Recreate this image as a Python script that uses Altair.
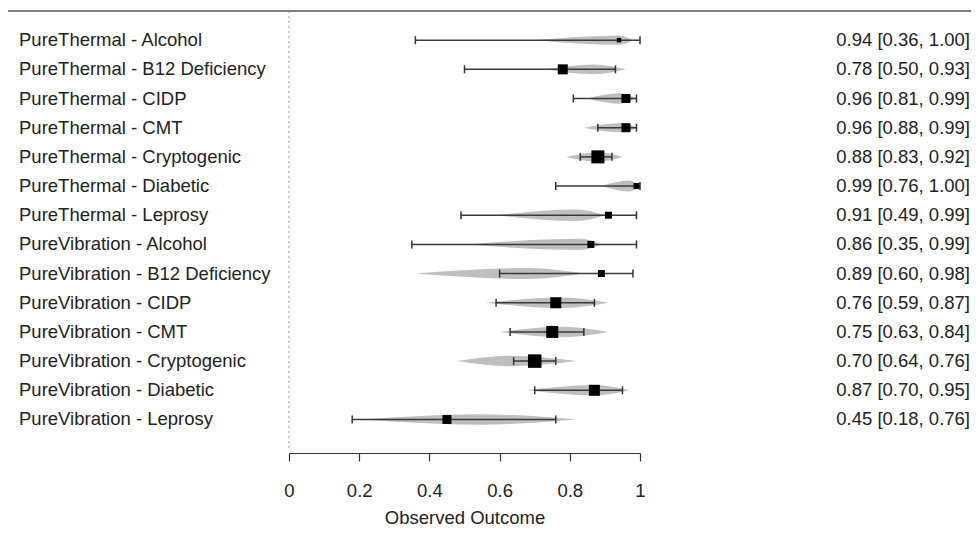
import altair as alt
import pandas as pd

labels = [
    "PureThermal - Alcohol", "PureThermal - B12 Deficiency", "PureThermal - CIDP",
    "PureThermal - CMT", "PureThermal - Cryptogenic", "PureThermal - Diabetic",
    "PureThermal - Leprosy", "PureVibration - Alcohol", "PureVibration - B12 Deficiency",
    "PureVibration - CIDP", "PureVibration - CMT", "PureVibration - Cryptogenic",
    "PureVibration - Diabetic", "PureVibration - Leprosy",
]
est = [0.94, 0.78, 0.96, 0.96, 0.88, 0.99, 0.91, 0.86, 0.89, 0.76, 0.75, 0.70, 0.87, 0.45]
ci_lo = [0.36, 0.50, 0.81, 0.88, 0.83, 0.76, 0.49, 0.35, 0.60, 0.59, 0.63, 0.64, 0.70, 0.18]
ci_hi = [1.00, 0.93, 0.99, 0.99, 0.92, 1.00, 0.99, 0.99, 0.98, 0.87, 0.84, 0.76, 0.95, 0.76]
weights = [20, 100, 81, 81, 169, 36, 49, 49, 49, 121, 144, 182, 121, 81]

# density (violin) outline: start, mode, end, half-height (row units)
dens_lo = [0.70, 0.73, 0.85, 0.84, 0.79, 0.89, 0.59, 0.50, 0.36, 0.56, 0.60, 0.48, 0.68, 0.21]
dens_mode = [0.94, 0.87, 0.94, 0.95, 0.88, 0.97, 0.82, 0.83, 0.68, 0.78, 0.78, 0.63, 0.87, 0.54]
dens_hi = [0.98, 0.96, 0.99, 0.99, 0.95, 1.00, 0.90, 0.89, 0.84, 0.91, 0.91, 0.82, 0.97, 0.82]
dens_h = [0.16, 0.17, 0.18, 0.16, 0.16, 0.19, 0.2, 0.19, 0.19, 0.18, 0.18, 0.18, 0.18, 0.18]

rows = list(range(1, len(labels) + 1))
main = pd.DataFrame({
    "row": rows, "label": labels, "est": est, "lo": ci_lo, "hi": ci_hi, "weight": weights,
    "txt": [f"{e:.2f} [{l:.2f}, {h:.2f}]" for e, l, h in zip(est, ci_lo, ci_hi)],
})

recs = []
for r, a, m, b, h in zip(rows, dens_lo, dens_mode, dens_hi, dens_h):
    for x, w in ((a, 0.0), (m, h), (b, 0.0)):
        recs.append({"row": r, "vx": x, "y1": r - w, "y2": r + w})
dens = pd.DataFrame(recs)

FONT = "Liberation Sans"
FS = 18.5
xscale = alt.Scale(domain=[0, 1], nice=False, zero=False)
yscale = alt.Scale(domain=[0, 15.15], reverse=True, nice=False, zero=False)
xaxis = alt.Axis(
    values=[0, 0.2, 0.4, 0.6, 0.8, 1], format="~g", title="Observed Outcome",
    tickSize=8, labelFontSize=FS, titleFontSize=FS, labelFont=FONT, titleFont=FONT,
    labelPadding=20, titlePadding=9, grid=False, domainColor="#333", tickColor="#333",
    labelColor="#222", titleColor="#222", titleFontWeight="normal",
    domainWidth=1.2, tickWidth=1.2, labelFlush=False,
)
noy = alt.Axis(title=None, labels=False, ticks=False, domain=False, grid=False)

base = alt.Chart(main)

topline = base.mark_rule(color="#555", strokeWidth=1.5).encode(
    x=alt.value(-281), x2=alt.value(682), y=alt.value(0)
).transform_filter("datum.row == 1")

zero_line = base.mark_rule(color="#999", strokeWidth=1, strokeDash=[2, 3]).encode(
    x=alt.X("z:Q", scale=xscale, axis=xaxis), y=alt.value(0), y2=alt.value(437)
).transform_filter("datum.row == 1").transform_calculate(z="0")

violins = alt.Chart(dens).mark_area(
    interpolate="monotone", color="#b8b8b8", opacity=0.9
).encode(
    x=alt.X("vx:Q", scale=xscale, axis=xaxis),
    y=alt.Y("y1:Q", scale=yscale, axis=noy, stack=None),
    y2="y2:Q",
    detail="row:N",
)

ci = base.mark_rule(color="#3a3a3a", strokeWidth=1.5).encode(
    x=alt.X("lo:Q", scale=xscale, axis=xaxis), x2="hi:Q",
    y=alt.Y("row:Q", scale=yscale, axis=noy),
)
cap_lo = base.mark_rule(color="#333", strokeWidth=1.5, yOffset=-4, y2Offset=4).encode(
    x=alt.X("lo:Q", scale=xscale, axis=xaxis),
    y=alt.Y("row:Q", scale=yscale, axis=noy), y2="row:Q",
)
cap_hi = base.mark_rule(color="#333", strokeWidth=1.5, yOffset=-4, y2Offset=4).encode(
    x=alt.X("hi:Q", scale=xscale, axis=xaxis),
    y=alt.Y("row:Q", scale=yscale, axis=noy), y2="row:Q",
)
points = base.mark_square(color="black", filled=True, opacity=1).encode(
    x=alt.X("est:Q", scale=xscale, axis=xaxis),
    y=alt.Y("row:Q", scale=yscale, axis=noy),
    size=alt.Size("weight:Q", scale=alt.Scale(domain=[0, 182], range=[0, 182]), legend=None),
)
left_txt = base.mark_text(align="left", baseline="middle", font=FONT, fontSize=FS, color="#222").encode(
    x=alt.value(-270), y=alt.Y("row:Q", scale=yscale, axis=noy), text="label:N"
)
right_txt = base.mark_text(align="right", baseline="middle", font=FONT, fontSize=FS, color="#222").encode(
    x=alt.value(681), y=alt.Y("row:Q", scale=yscale, axis=noy), text="txt:N"
)

chart = alt.layer(
    topline, zero_line, violins, ci, cap_lo, cap_hi, points, left_txt, right_txt
).properties(
    width=351, height=442,
    padding={"left": 281, "top": 3, "right": 331, "bottom": 74},
    autosize=alt.AutoSizeParams(type="none"),
).configure(
    font=FONT, background="white", view=alt.ViewConfig(stroke="transparent", strokeWidth=0)
)

chart.save("out.html", embed_options={"renderer": "svg", "actions": False})
